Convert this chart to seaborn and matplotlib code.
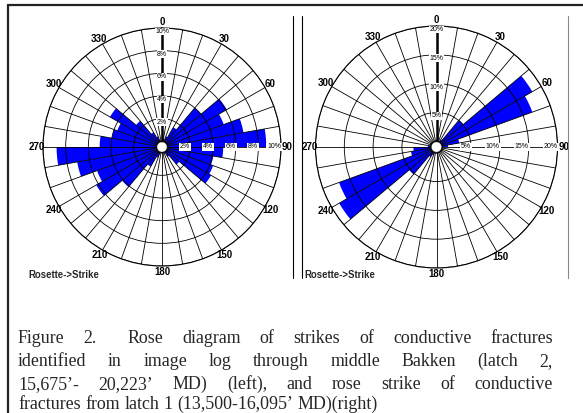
import numpy as np
import pandas as pd
import matplotlib
matplotlib.use("Agg")
import matplotlib.pyplot as plt
from matplotlib.lines import Line2D
import seaborn as sns

sns.set_theme(style="white")
plt.rcParams['font.family'] = ['Liberation Sans', 'DejaVu Sans']

# ---- data ----
bin_starts = list(range(0, 360, 10))  # strike bins, degrees (10 deg wide)
left_pct = [0, 0, 0.5, 1.5, 4.0, 6.1, 5.3, 6.8, 8.7, 4.9, 4.1, 4.3,
            4.5, 1.5, 0.5, 0, 0, 0, 0, 0, 0.5, 1.5, 4.1, 6.2,
            5.6, 7.1, 8.8, 5.0, 4.0, 3.7, 4.8, 2.5, 1.0, 0.5, 0, 0]
right_pct = [0, 0, 0, 0.5, 5.1, 18.2, 16.7, 3.0, 1.0, 0, 0, 0,
             0, 0, 0, 0, 0, 0, 0, 0, 0.5, 1.0, 5.2, 18.5,
             17.0, 3.5, 3.0, 0.5, 0, 0, 0, 0, 0, 0, 0, 0]
left_rticks = [2, 4, 6, 8, 10]
right_rticks = [5, 10, 15, 20]
deg_labels = [0, 30, 60, 90, 120, 150, 180, 210, 240, 270, 300, 330]
panel_title = "Rosette->Strike"
caption_lines = [
    "Figure 2.  Rose diagram of strikes of conductive fractures",
    "identified in image log through middle Bakken (latch 2,",
    "15,675\u2019- 20,223\u2019 MD) (left), and rose strike of conductive",
    "fractures from latch 1 (13,500-16,095\u2019 MD)(right)",
]

W, H = 583, 413
fig = plt.figure(figsize=(W / 100, H / 100), dpi=100)
fig.patch.set_facecolor("white")

def px(x, y):
    return x / W, 1 - y / H

def rose(cx, cy, R, values, rticks):
    rmax = rticks[-1]
    ax = fig.add_axes([(cx - R) / W, (H - cy - R) / H, 2 * R / W, 2 * R / H],
                      projection="polar")
    ax.set_facecolor("white")
    df = pd.DataFrame({"start": bin_starts, "pct": values})
    theta = np.deg2rad(df["start"] + 5)
    ax.bar(theta, df["pct"], width=np.deg2rad(10), bottom=0,
           color="#0000FF", edgecolor="none", zorder=1)
    ax.set_theta_zero_location("N")
    ax.set_theta_direction(-1)
    ax.set_rorigin(-rmax * 0.05)
    ax.set_ylim(0, rmax)
    ticks = np.arange(0, 360, 10)
    ax.set_xticks(np.deg2rad(ticks))
    ax.set_xticklabels([str(d) if d in deg_labels else "" for d in ticks],
                       fontsize=7, fontweight="bold", color="black")
    ax.tick_params(axis="x", length=0, pad=-2.5)
    ax.set_yticks(rticks)
    ax.set_yticklabels([])
    ax.tick_params(axis="y", length=0)
    ax.set_axisbelow(False)
    ax.grid(True, color="black", linewidth=0.6)
    ax.spines["polar"].set_linewidth(0.8)
    ax.spines["polar"].set_color("black")
    gl = ax.xaxis.get_gridlines()
    gl[0].set_linewidth(1.8)
    # inner circle
    th = np.linspace(0, 2 * np.pi, 120)
    ax.plot(th, np.zeros_like(th), color="black", lw=0.7, zorder=3)
    for r in rticks:
        ax.text(np.deg2rad(90), r, f"{r}%", ha="right", va="center",
                fontsize=5, color="black", zorder=4,
                bbox=dict(fc="white", ec="none", pad=0.6))
        ax.text(0, r, f"{r}%", ha="center", va="top",
                fontsize=5, color="black", zorder=4,
                bbox=dict(fc="white", ec="none", pad=0.3))
    return ax

axL = rose(162, 147, 119, left_pct, left_rticks)
axR = rose(436.5, 147, 121, right_pct, right_rticks)

fig.text(*px(28, 275), panel_title, fontsize=6.9, fontweight="bold",
         ha="left", va="center")
fig.text(*px(304, 275), panel_title, fontsize=6.9, fontweight="bold",
         ha="left", va="center")

# frame / separators
fig.add_artist(Line2D([8 / W, 1], [1 - 5 / H, 1 - 5 / H], color="#222222", lw=1.6))
fig.add_artist(Line2D([8 / W, 8 / W], [0, 1 - 5 / H], color="#222222", lw=1.6))
for xs, col in [(293, "black"), (302, "black"), (568, "#888888")]:
    fig.add_artist(Line2D([xs / W, xs / W], [1 - 16 / H, 1 - 278 / H], color=col, lw=0.8))

# justified caption
renderer = fig.canvas.get_renderer()
x0, x1 = 18, 553
fs = 12.9
baselines = [343, 366, 389, 409]
for i, line in enumerate(caption_lines):
    toks = line.split(" ")
    words, gaps = [], []
    pending = 0
    for t in toks:
        if t == "":
            pending += 1
            continue
        if words:
            gaps.append(1 + 0.6 * pending)
        words.append(t)
        pending = 0
    texts = [fig.text(0, 0, w, family=["Liberation Serif"], fontsize=fs,
                      ha="left", va="baseline") for w in words]
    widths = [t.get_window_extent(renderer).width for t in texts]
    sp = fig.text(0, 0, "a a", family=["Liberation Serif"], fontsize=fs)
    a = fig.text(0, 0, "aa", family=["Liberation Serif"], fontsize=fs)
    space = sp.get_window_extent(renderer).width - a.get_window_extent(renderer).width
    sp.remove(); a.remove()
    justify = i < len(caption_lines) - 1
    if justify:
        unit = (x1 - x0 - sum(widths)) / sum(gaps)
    else:
        unit = space
    x = x0
    for j, t in enumerate(texts):
        t.set_position(px(x, baselines[i]))
        x += widths[j]
        if j < len(gaps):
            x += unit * gaps[j]

fig.savefig("out.png", dpi=100, facecolor="white")
